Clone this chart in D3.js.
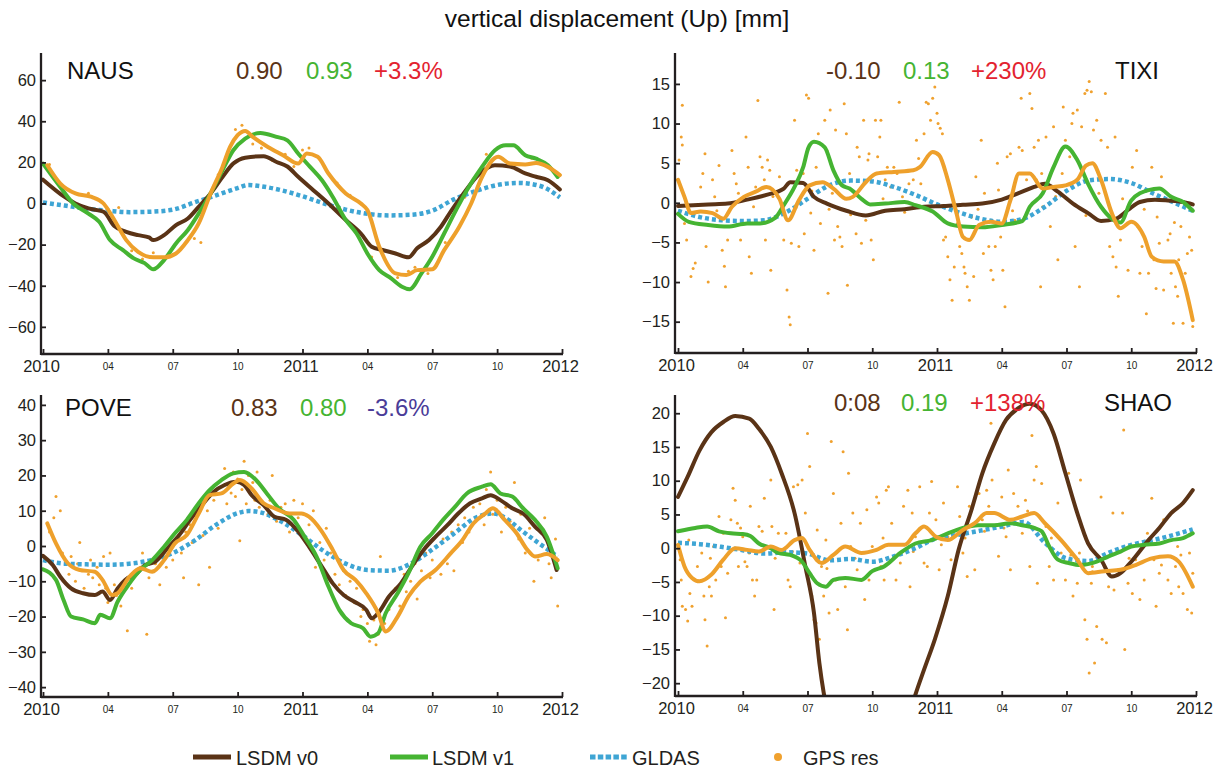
<!DOCTYPE html>
<meta charset="utf-8">
<head>
  <title>vertical displacement (Up)</title>
</head>
<style>
  body { margin: 0; background: #fff; font-family: "Liberation Sans", Arial, Helvetica, sans-serif; }
  .axis path, .axis line { stroke: #231f20; stroke-width: 1.8px; }
  .axis text { fill: #231f20; font-family: "Liberation Sans", Arial, sans-serif; }
  .line { fill: none; stroke-linejoin: round; stroke-linecap: round; }
  .line.v0 { stroke: #5a3316; stroke-width: 4px; }
  .line.v1 { stroke: #45b432; stroke-width: 4px; }
  .line.gps { stroke: #eea02b; stroke-width: 4px; }
  .line.gldas { stroke: #3ea5d4; stroke-width: 4.5px; stroke-dasharray: 4 3; stroke-linecap: butt; }
  .dot { fill: #f0a12e; }
</style>
<body>
<svg width="1225" height="771"></svg>
<script src="https://d3js.org/d3.v7.min.js"></script>
<script>
// months after 2010-01-01
var monthTicks = [0, 3, 6, 9, 12, 15, 18, 21, 24];
var tickLabels = ["2010", "04", "07", "10", "2011", "04", "07", "10", "2012"];

var stations = ["NAUS", "TIXI", "POVE", "SHAO"];
var corrV0 = ["0.90", "-0.10", "0.83", "0:08"];
var corrV1 = ["0.93", "0.13", "0.80", "0.19"];
var change = ["+3.3%", "+230%", "-3.6%", "+138%"];

// ---- NAUS
var nausV0 = [[0,11.6],[1,3.2],[1.5,0],[2.1,-2.4],[2.8,-4],[3.3,-11],[3.85,-13.8],[4.4,-15.4],[4.9,-16.5],[5.1,-17.8],[5.6,-15.4],[6.15,-10.5],[6.7,-7.3],[7.2,-1.6],[7.75,4.9],[8.3,12.9],[8.8,19.4],[9.35,22.3],[10.2,23],[10.8,20.2],[11.3,18],[11.8,13],[12.5,6.5],[13.2,0],[14,-8],[14.7,-14.6],[15.2,-21],[15.7,-22.6],[16.3,-24.3],[16.9,-26.2],[17.3,-21.8],[17.85,-17.8],[18.4,-11.3],[18.9,-3.2],[19.45,4.9],[20.2,14.6],[20.9,18.6],[21.6,18],[22.3,14.6],[22.8,13],[23.35,11.3],[23.9,6.8]];
var nausV1 = [[0,19.4],[0.8,8],[1.4,0],[2.1,-4.9],[2.6,-8.9],[3.1,-17.8],[3.7,-22.7],[4.2,-26.7],[4.7,-29],[5.1,-32],[5.6,-27.5],[6.15,-19.4],[6.7,-12.9],[7.2,-4.9],[7.75,4.9],[8.3,16.2],[8.8,25.9],[9.35,31.6],[10.05,34.3],[10.8,32.4],[11.3,30.7],[11.8,24.3],[12.35,17.8],[12.9,11.3],[13.4,3.2],[14,-8],[14.5,-14.6],[15,-24.3],[15.55,-32.4],[16.1,-36.4],[16.6,-40.5],[16.95,-41.7],[17.5,-34],[18,-25.9],[18.55,-14.6],[19.1,-3.2],[19.6,6.5],[20.3,17.8],[20.9,25.9],[21.4,28.3],[21.75,28.3],[22.3,23.5],[22.8,21.8],[23.35,18.6],[23.8,12.9]];
var nausGps = [[0.2,18.6],[0.8,9.7],[1.5,4.9],[2.25,3.2],[2.8,0],[3.3,-8],[3.85,-17.8],[4.4,-23.5],[5.1,-26.2],[5.6,-26.2],[6.15,-24.3],[6.7,-17.8],[7.2,-9.7],[7.75,4.9],[8.3,17.8],[8.65,27.5],[9,33.2],[9.35,35.3],[9.7,32.4],[10.4,27.5],[11.1,23.5],[11.8,19.4],[12.2,24.3],[12.7,22.7],[13.2,14.6],[14,4.9],[14.7,0],[15,-3.2],[15.55,-21],[16.3,-34],[16.8,-34.8],[17.3,-32.4],[18,-32],[18.55,-22.7],[19.25,-11.3],[19.8,0],[20.3,12.9],[21.05,22.7],[21.6,19.4],[22.3,19],[22.8,19.7],[23.35,17.8],[23.9,13.8]];
var nausGldas = [[0,0.5],[1,-1],[2,-2.5],[3,-3.5],[4,-4.2],[5,-4],[6,-3],[7,0.5],[8,4],[9,7.5],[9.5,9],[10,8.5],[11,6.5],[12,3.5],[13,0],[14,-3],[15,-5],[16,-5.8],[17,-5.5],[18,-3.5],[19,2],[20,6],[21,9],[22,10],[23,8.5],[23.9,3]];
var nausDots = [[0.3,19],[2.1,5],[3.5,-2],[4.1,-23],[4.6,-27],[5.1,-24],[6,-25],[7,-17],[7.3,-19],[8.1,14],[8.9,36],[9.2,38],[9.7,29],[10.1,27],[10.6,21],[11.2,24],[11.6,18],[12,26],[12.3,27],[13.6,10],[14.2,4],[15.2,-26],[16.4,-36],[16.9,-33],[17.2,-31],[17.8,-34],[18.6,-19],[19.5,3],[20.5,24],[21.5,20],[22.6,22],[23.9,14]];

// ---- TIXI
var tixiV0 = [[0,-0.4],[1.4,-0.2],[2.3,-0.1],[3.2,0.4],[4.1,1],[4.9,1.8],[5.2,2.6],[5.8,2.5],[6.3,0.75],[6.9,-0.1],[7.8,-1],[8.7,-1.6],[9.6,-1],[10.5,-0.8],[11.4,-0.5],[12.3,-0.4],[13.2,-0.25],[14.1,-0.1],[15,0.4],[15.95,1.4],[16.5,2],[17,2.4],[17.6,1.4],[18.3,-0.1],[19,-1.3],[19.6,-2.3],[20.3,-2],[20.85,-0.9],[21.4,0.1],[22.1,0.4],[22.7,0.3],[23.4,0.1],[23.85,-0.2]];
var tixiV1 = [[0,-1.4],[0.5,-2.4],[1.4,-2.8],[2.3,-3],[3.2,-2.6],[3.8,-2.6],[4.5,-1.9],[4.9,-0.3],[5.4,2],[5.8,4.5],[6.05,7],[6.3,7.7],[6.8,7],[7.2,4.1],[7.6,2.2],[7.95,1.8],[8.5,0.5],[8.9,-0.2],[9.6,-0.1],[10.5,0.1],[11,-0.3],[11.8,-1.1],[12.5,-2.6],[13.2,-3],[14.1,-3.1],[15,-2.8],[15.95,-2.3],[16.3,-0.5],[16.9,1.2],[17.4,4.5],[17.95,7.1],[18.5,5.4],[19,2.4],[19.6,-0.5],[20.1,-2],[20.5,-2.5],[21,0.3],[21.8,1.6],[22.3,1.8],[22.85,0.75],[23.4,0.1],[23.85,-1]];
var tixiGps = [[0,2.9],[0.3,0.75],[0.6,-1.3],[1.05,-1.1],[1.6,-1.3],[2.1,-2],[2.5,-0.5],[3.05,0.75],[3.6,1.4],[4.1,2],[4.7,0.5],[5.1,-2.2],[5.6,0.3],[6.1,2.2],[6.7,2.6],[7.2,1.8],[7.8,0.5],[8.1,0.75],[8.7,2.6],[9.2,3.7],[10,3.9],[10.9,4.1],[11.2,4.5],[11.8,6.4],[12.1,6],[12.5,2.9],[12.9,-1.3],[13.2,-4.3],[13.5,-4.7],[13.95,-2.8],[14.5,-2.4],[15,-2.6],[15.4,0.3],[15.8,3.7],[16.3,3.7],[16.9,1.8],[17.4,2],[17.95,2.2],[18.5,2.9],[18.9,4.7],[19.2,5],[19.6,2.9],[20.1,-1.3],[20.5,-3.2],[21,-2.4],[21.6,-4.3],[21.95,-6.8],[22.5,-7.4],[23,-7.4],[23.4,-9.7],[23.85,-14.8]];
var tixiGldas = [[0,-1],[1,-1.8],[2,-2.2],[3,-2.3],[4,-2.2],[5,-1.2],[6,0.5],[7,2.2],[8,2.8],[9,2.7],[10,2],[11,1],[12,-0.2],[13,-1.2],[14,-2],[15,-2.4],[16,-2],[17,-0.5],[18,1.5],[19,2.8],[20,3],[21,2.5],[22,1.2],[23,0],[23.85,-1]];
var tixiDots = [[0.2,12.3],[0.15,8.3],[0.2,7.3],[0.05,5.4],[0.3,-2.6],[0.4,-4.7],[0.6,-9.3],[0.7,-8.3],[0.8,-7.6],[1.05,2],[1.15,3.7],[1.25,6.2],[1.3,-5.5],[1.4,-10],[1.6,2.9],[1.7,0.75],[1.9,4.7],[2,-3],[2.05,-6],[2.15,-8],[2.2,-10.6],[2.3,-4.7],[2.5,6.6],[2.6,3.7],[2.7,2.4],[2.8,1.2],[2.9,-4.7],[3.15,8.3],[3.25,4.5],[3.3,-6.8],[3.4,-8.9],[3.6,2],[3.7,12.9],[3.8,5.8],[3.9,4.5],[4,2.9],[4.05,-4.7],[4.15,5.4],[4.25,4.1],[4.3,-8.5],[4.5,-1.8],[4.7,3.3],[4.9,-4.7],[5.05,-11],[5.15,-14.4],[5.2,-15.4],[5.25,-5.1],[5.3,-1.3],[5.4,10.4],[5.5,4.1],[5.6,-5.5],[5.8,3.7],[5.85,-3.9],[5.95,13.6],[6.05,13.2],[6.15,-1.3],[6.3,-6],[6.4,4.5],[6.5,8.7],[6.6,-2.6],[6.8,10.4],[6.9,6.6],[6.95,-11.4],[7.05,11.7],[7.15,1.2],[7.25,-4.7],[7.3,9.2],[7.4,-3],[7.5,-4.3],[7.6,-5.5],[7.7,12.5],[7.8,8.7],[7.85,-10.4],[7.95,3.7],[8.15,-1.3],[8.25,-3.9],[8.3,7],[8.4,5.8],[8.5,-5.1],[8.6,10.4],[8.7,-2.2],[8.8,5.4],[8.85,6.2],[8.95,-4.7],[9.05,-7.2],[9.15,10.4],[9.25,5.8],[9.35,8.3],[9.4,10.4],[9.6,2.9],[9.7,4.5],[9.85,2],[10,4.5],[10.15,3.7],[10.25,12.7],[10.4,0.75],[10.7,2.4],[10.9,2.9],[11.05,7.9],[11.15,5.6],[11.25,2.4],[11.4,8.7],[11.5,12.7],[11.6,12.5],[11.7,10.4],[11.8,13.2],[11.9,14.6],[12,11.3],[12.05,10],[12.15,9.4],[12.25,8.7],[12.3,-4.7],[12.4,-4.3],[12.5,-6.8],[12.6,-9.7],[12.7,-12.3],[12.8,-8.1],[12.95,-2.6],[13.05,-5.5],[13.15,-6.4],[13.25,-8.1],[13.3,-8.9],[13.4,-10.6],[13.5,-12.3],[13.6,-1.8],[13.7,-9.3],[13.8,3.3],[14.05,7.9],[14.15,-6.4],[14.35,-3],[14.4,-5.5],[14.5,-8.5],[14.6,-9.7],[14.7,-5.5],[14.8,5],[14.85,1.6],[14.95,-4.3],[15.05,-8.5],[15.15,-13.1],[15.25,5.8],[15.4,6.2],[15.6,-2.2],[15.8,7],[15.9,13.2],[15.95,6.6],[16.15,2.9],[16.3,13.8],[16.4,11.9],[16.5,7],[16.6,2.9],[16.7,7.9],[16.8,-10.6],[16.85,3.7],[17.05,8.3],[17.25,-3],[17.4,9.6],[17.6,-7.2],[17.8,3.7],[17.85,12.1],[17.95,7.9],[18.15,5.8],[18.25,10],[18.3,11.3],[18.4,-5.5],[18.5,11.7],[18.6,-10.6],[18.7,9.6],[18.85,13.8],[18.95,14.2],[19.05,15.3],[19.15,14],[19.25,9.2],[19.4,10.4],[19.6,7.9],[19.8,13.8],[19.9,7],[20,-5.5],[20.15,-6.8],[20.25,8.3],[20.3,-8.1],[20.4,-11.8],[20.5,-4.7],[20.7,-1.3],[20.85,-8.5],[21.05,4.5],[21.25,6.6],[21.3,-3],[21.4,-8.9],[21.5,-5.5],[21.7,-14],[21.8,-8.9],[21.95,4.5],[22.05,-7.2],[22.15,-10.8],[22.3,-5.1],[22.4,3.3],[22.5,-11],[22.7,-4.7],[22.8,-3.9],[22.85,-8.9],[22.95,-15.2],[23.05,-10.6],[23.15,-11.8],[23.2,-7.2],[23.3,-3],[23.4,-15.2],[23.5,-8.9],[23.6,-6.4],[23.7,-4.3],[23.8,-6],[23.85,-15.6],[1.8,-1],[3.5,-0.5],[4.4,0.8],[6.2,1.5],[7,-0.8],[8,-1.5],[9.5,0.5],[10.5,-1.2],[11.2,-0.4],[13.9,-0.8],[14.2,1.2],[15.5,-1],[16.9,-0.5],[17.5,0.8],[18.9,-1.6],[19.5,1.2],[20.6,0.5],[21.6,-0.8],[22.2,-1.8],[23,-2.5]];

// ---- POVE
var poveV0 = [[0,-2.8],[0.45,-5.4],[0.8,-8.7],[1.3,-12],[1.85,-13.4],[2.4,-13.9],[2.75,-12.9],[3.1,-15.3],[3.45,-12],[3.8,-9.6],[4.35,-7.7],[4.7,-5.5],[5.2,-4.4],[5.75,-0.7],[6.3,3.1],[6.8,7.4],[7.35,11.6],[7.9,15.4],[8.4,17.3],[8.95,18.2],[9.3,17.3],[9.65,14.4],[10.2,11.6],[10.7,8.3],[11.25,7.4],[11.8,4.1],[12.3,-0.2],[12.85,-5.4],[13.4,-10.6],[13.9,-13.9],[14.4,-15.8],[14.95,-18.1],[15.2,-20.5],[15.5,-19],[16,-14.3],[16.55,-10.6],[17.1,-5.4],[17.6,-1.1],[18.15,2.6],[18.7,5.9],[19.2,9.2],[19.75,12.1],[20.3,13.5],[20.7,14.4],[21.15,13],[21.7,10.7],[22.2,9.2],[22.75,5.5],[23.3,1.7],[23.75,-6.8]];
var poveV1 = [[0,-6.6],[0.6,-9.6],[0.95,-15.3],[1.3,-20],[1.85,-20.8],[2.4,-21.9],[2.65,-19.5],[3.1,-20.5],[3.45,-15.8],[4,-10.6],[4.5,-6.8],[5.05,-4],[5.6,-0.2],[6.1,3.6],[6.65,7.4],[7.2,12.1],[7.7,15.8],[8.25,18.7],[8.8,20.6],[9.3,21],[9.85,18.7],[10.35,14.9],[10.9,10.7],[11.6,7.4],[12.1,2.6],[12.65,-3],[13.2,-11.5],[13.7,-18.1],[14.25,-21.9],[14.8,-23.3],[15.15,-25.7],[15.5,-24.7],[15.85,-19],[16.4,-13.4],[16.9,-7.7],[17.45,-0.2],[18,3.6],[18.5,7.4],[19.05,11.1],[19.6,14.9],[20.3,16.8],[20.7,17.5],[21.15,14.9],[21.7,14],[22.2,10.7],[22.75,7.4],[23.3,2.6],[23.8,-6.3]];
var poveGps = [[0.2,6.4],[0.6,0.75],[1.15,-4.9],[1.7,-6.8],[2.4,-7.3],[2.75,-9.6],[3.2,-13.9],[3.45,-13.4],[4,-8.7],[4.5,-6.3],[5.05,-7.3],[5.6,-4],[6.1,0.75],[6.65,3.1],[7.2,9.2],[7.7,14.4],[8.25,14.9],[8.8,17.7],[9.1,18.7],[9.65,16.3],[10.2,12.1],[10.7,10.7],[11.4,9.2],[11.95,9.2],[12.3,8.3],[12.85,4.5],[13.4,-1.1],[13.9,-6.8],[14.45,-9.6],[14.95,-13.4],[15.5,-19],[15.85,-24.2],[16.4,-20],[16.9,-14.3],[17.45,-10.1],[18.15,-6.8],[18.85,-2.1],[19.4,1.7],[19.9,6.4],[20.45,9.2],[20.8,10.7],[21.35,7.4],[21.9,3.6],[22.4,-1.1],[22.75,-3],[23.3,-2.3],[23.8,-4]];
var poveGldas = [[0,-4],[1,-5],[2,-5.2],[3,-5.3],[4,-5],[5,-4],[6,-2],[7,1.5],[8,6],[9,9.3],[9.5,9.9],[10,9.6],[11,7],[12,3],[13,-1.5],[14,-5],[15,-6.8],[16,-7],[17,-5],[18,-1],[19,3.5],[20,8],[20.8,9.2],[21.5,7.5],[22,5],[23,0.5],[23.8,-3]];
var poveDots = [[0.3,4],[0.5,8],[0.6,14],[0.8,10],[0.9,-2],[1.1,-5],[1.2,-8],[1.3,-3],[1.5,-10],[1.6,-5],[1.7,1],[1.8,-7],[1.9,-12],[2.1,-8],[2.2,-4],[2.3,-9],[2.5,-6],[2.6,-11],[2.8,-3],[2.9,-12],[3,-16],[3.1,-2],[3.3,-11],[3.4,-14],[3.6,-17],[3.8,-10],[3.9,-24],[4.1,-12],[4.3,-8],[4.5,-6],[4.6,-2],[4.8,-25],[4.9,-9],[5.1,-7],[5.2,-5],[5.4,-11],[5.5,-3],[5.7,-6],[5.9,-1],[6,-4],[6.2,2],[6.4,-2],[6.5,-9],[6.6,4],[6.8,6],[6.9,1],[7.1,8],[7.2,-11],[7.3,12],[7.4,3],[7.6,10],[7.7,-6],[7.9,13],[8,16],[8.1,5],[8.3,19],[8.4,22],[8.5,12],[8.6,17],[8.7,15],[8.8,21],[8.9,14],[9,19],[9.1,1.5],[9.2,16],[9.3,24],[9.4,12],[9.5,20],[9.6,15],[9.7,18],[9.8,13],[9.9,21],[10,11],[10.2,16],[10.4,9],[10.5,13],[10.6,20],[10.8,7],[11,11],[11.2,12],[11.4,4],[11.6,13],[11.8,8],[12,12],[12.2,2],[12.3,6],[12.5,10],[12.6,-6],[12.8,1],[13,-4],[13.1,5],[13.3,-2],[13.5,-8],[13.7,-11],[13.9,-7],[14,-14],[14.2,-10],[14.4,-16],[14.5,-12],[14.7,-20],[14.8,-18],[14.9,-24],[15,-22],[15.1,-27],[15.3,-21],[15.4,-28],[15.5,-25],[15.6,-3],[15.8,-22],[16,-18],[16.2,-15],[16.3,-12],[16.5,-17],[16.7,-8],[16.8,-13],[17,-10],[17.2,-5],[17.3,-15],[17.5,-7],[17.7,-2],[17.9,-9],[18,-4],[18.2,0],[18.4,-8],[18.5,2],[18.7,-5],[18.9,4],[19,-7],[19.2,6],[19.4,1],[19.5,8],[19.7,4],[19.9,11],[20,7],[20.2,12],[20.4,6],[20.5,16],[20.7,21],[20.8,9],[21,13],[21.2,4],[21.4,11],[21.6,7],[21.8,18],[22,2],[22.1,9],[22.3,-2],[22.5,5],[22.7,-10],[22.9,-4],[23.1,0],[23.2,8],[23.4,-5],[23.5,-9],[23.7,2],[23.8,-17]];

// ---- SHAO (LSDM v0 runs below the plotted range in autumn 2010)
var shaoV0 = [[0,7.6],[0.45,10.6],[1,14.5],[1.55,17.2],[2.1,18.7],[2.65,19.6],[3.3,19.2],[3.75,17.7],[4.3,15],[4.8,11.1],[5.4,5.2],[5.9,-2.7],[6.3,-9.6],[6.55,-17],[6.75,-21.4],[7.3,-27],[8,-31],[9,-34],[10,-31],[10.6,-26],[11,-21.7],[11.4,-18],[11.9,-13.5],[12.5,-7.1],[13,-0.25],[13.6,5.7],[14.1,11.1],[14.65,15.5],[15.2,19],[15.75,20.7],[16.3,21.4],[16.85,20.4],[17.4,17],[17.95,11.1],[18.5,5.2],[19,0.7],[19.6,-1.7],[20.1,-4.2],[20.5,-3.7],[21,-2],[21.8,1.2],[22.3,3],[22.85,5.2],[23.4,6.7],[23.85,8.6]];
var shaoV1 = [[0,2.5],[0.8,3],[1.35,3.2],[1.9,2.5],[2.45,2.2],[3,2.1],[3.35,1.8],[3.75,0.7],[4.3,0],[4.65,-0.7],[5.2,-1],[5.75,-2],[6.1,-3.7],[6.45,-5.2],[6.85,-5.7],[7.2,-4.7],[7.75,-4.4],[8.5,-4.7],[9,-3.4],[9.55,-2.7],[10.3,-0.7],[11,0.7],[11.75,1.2],[12.5,2.2],[13.2,3],[13.9,3.4],[14.65,3.4],[15.4,3.7],[15.95,3.4],[16.5,3],[16.85,2.5],[17.2,0.25],[17.6,-1.7],[18.1,-2.2],[18.65,-2.5],[19.4,-2],[19.95,-1.2],[20.5,-0.5],[21,0.25],[21.6,0.5],[22.3,0.7],[22.85,1.2],[23.4,1.5],[23.85,2.2]];
var shaoGps = [[0,0.5],[0.3,-2.7],[0.65,-4.4],[1,-4.9],[1.55,-3.9],[2.1,-1.7],[2.65,0],[3.2,-0.25],[3.75,-0.5],[4.3,0.25],[4.8,-0.25],[5.4,1.2],[5.75,1.5],[6.1,-0.25],[6.65,-2.2],[7.2,-1],[7.75,0.25],[8.5,-0.7],[9.2,-0.25],[9.75,0.5],[10.5,0.5],[11,2.2],[11.4,3.2],[11.95,1.7],[12.5,1.2],[13.2,2.7],[13.75,3.7],[14.3,5.2],[14.65,5.2],[15.4,4.2],[15.95,4.7],[16.5,5.2],[17,3.7],[17.75,1.2],[18.5,-1.7],[19,-3.7],[19.75,-3.4],[20.5,-3.2],[21.2,-2.5],[21.95,-1.5],[22.7,-1.2],[23.2,-2],[23.85,-5.7]];
var shaoGldas = [[0,0.8],[1,0.6],[2,0.2],[3,-0.3],[4,-0.8],[5,-0.6],[6,-0.8],[7,-1.8],[8,-1.6],[9,-2],[10,-1.2],[11,0],[12,1.5],[13,2],[14,2.6],[15,3.2],[16,3.9],[17,0.8],[18,-1.5],[19,-1.9],[20,-0.6],[21,0.5],[22,1.2],[23,2],[23.85,2.8]];
var shaoDots = [[0.1,-1.7],[0.15,-4.7],[0.2,-8.6],[0.35,-9.1],[0.45,-10.8],[0.55,-6.7],[0.65,-8.6],[0.8,-4.7],[0.9,-2.7],[1.1,-0.7],[1.2,-7.1],[1.25,-10.6],[1.35,-14.5],[1.45,-5.7],[1.55,-7.1],[1.65,0.25],[1.75,-4.7],[1.9,4.7],[2,-2.7],[2.1,2.2],[2.2,-10.3],[2.3,-3.7],[2.45,4.2],[2.55,8.9],[2.65,7.1],[2.75,3.7],[2.8,-2.7],[2.9,3],[3,1.7],[3.2,-2.7],[3.3,-0.7],[3.35,6.2],[3.45,-4.7],[3.55,-7.1],[3.65,-4.7],[3.75,3.2],[3.9,2.5],[4,7.4],[4.1,0.25],[4.3,10.1],[4.35,3.2],[4.45,-9.1],[4.65,2.2],[4.8,-0.7],[5,2.2],[5.1,-4.7],[5.2,-5.7],[5.35,9.1],[5.45,4.7],[5.55,9.4],[5.65,-2.2],[5.75,10.1],[5.9,5.2],[6,17],[6.1,12.1],[6.2,-7.1],[6.3,-10.6],[6.4,-11.1],[6.45,2.7],[6.55,-13.5],[6.65,-2.7],[6.75,-7.1],[6.85,1.2],[7,-9.6],[7.1,15.8],[7.2,8.1],[7.3,-4.7],[7.4,-9.1],[7.55,3.7],[7.65,14.3],[7.75,-5.7],[7.85,-12.1],[7.9,11.1],[8,0.25],[8.1,5.2],[8.3,-3.2],[8.45,3.7],[8.65,-7.6],[8.75,5.7],[8.85,-4.7],[9,0.25],[9.2,7.6],[9.3,6.7],[9.4,-2.7],[9.55,-4.7],[9.65,8.6],[9.75,9.1],[9.9,3.7],[10.1,-4.7],[10.3,-2.2],[10.45,6.2],[10.65,8.6],[10.75,-5.7],[10.85,5.2],[11,1.7],[11.2,9.1],[11.4,-2.2],[11.55,-2.7],[11.65,5.2],[11.75,9.9],[11.95,4.2],[12.1,-3.2],[12.3,6.7],[12.5,1.7],[12.65,-1.7],[12.95,9.1],[13.05,4.7],[13.2,-0.7],[13.4,-4.2],[13.5,6.2],[13.55,3.2],[13.75,-3.2],[13.95,8.1],[14.1,4.2],[14.3,8.6],[14.4,6.2],[14.5,18.5],[14.55,10.1],[14.65,3.2],[14.85,-1.2],[15,7.6],[15.2,1.7],[15.3,11.6],[15.4,-3.2],[15.55,8.1],[15.75,6.2],[15.95,2.2],[16.1,7.1],[16.3,-2.7],[16.4,16.7],[16.5,10.1],[16.6,12.1],[16.65,-5.2],[16.85,9.6],[17.05,3.2],[17.2,-2.7],[17.4,-4.7],[17.6,6.7],[17.75,-0.7],[17.95,-4.7],[18.1,11.1],[18.3,-7.1],[18.5,-5.2],[18.6,-0.7],[18.65,10.1],[18.85,-10.6],[18.95,-13.5],[19.05,-18.5],[19.15,-5.2],[19.2,-2.7],[19.3,-17],[19.4,-11.6],[19.6,7.6],[19.65,-13.5],[19.85,-14],[19.95,-5.7],[20.15,5.2],[20.2,-6.2],[20.4,-3.2],[20.6,5.2],[20.65,17.5],[20.7,-15],[20.85,-5.2],[21.05,-6.7],[21.2,-1.7],[21.4,-7.6],[21.6,-4.7],[21.75,2.2],[21.95,7.4],[22.05,-1.7],[22.15,-8.6],[22.3,-3.7],[22.5,4.2],[22.7,-4.7],[22.85,-6.7],[23.05,-2.7],[23.15,0.25],[23.2,-5.7],[23.4,-6.7],[23.6,-9.1],[23.7,-0.7],[23.8,-9.6],[23.85,-3.7],[0.5,1.2],[1.5,-1.5],[3.1,-2],[4.5,-1.5],[5.3,-0.5],[6.9,-3],[8.2,-1.5],[9.5,1.5],[10.9,-0.5],[12.2,0.5],[13.3,1.5],[14.2,2.5],[15.1,3],[16.2,5.5],[17.3,1.5],[18.2,-1],[19.2,-3.5],[20.9,-1.5],[22.4,-2.5],[23.3,-1]];

var lineSets = [
  { v0: nausV0, v1: nausV1, gps: nausGps, gldas: nausGldas, dots: nausDots },
  { v0: tixiV0, v1: tixiV1, gps: tixiGps, gldas: tixiGldas, dots: tixiDots },
  { v0: poveV0, v1: poveV1, gps: poveGps, gldas: poveGldas, dots: poveDots },
  { v0: shaoV0, v1: shaoV1, gps: shaoGps, gldas: shaoGldas, dots: shaoDots }
];

// panel layout (pixels)
var layout = [
  { ax: 41, x0: 43, x1: 562, top: 53, bot: 354, dom: [-73.2, 73.2], step: 20,
    nameX: 67, numX: [236, 306, 374], textY: 79 },
  { ax: 675, x0: 678, x1: 1196, top: 53, bot: 353, dom: [-18.95, 18.9], step: 5,
    nameX: 1115, numX: [826, 903, 971], textY: 79 },
  { ax: 41, x0: 43, x1: 562, top: 395, bot: 697, dom: [-42.8, 42.8], step: 10,
    nameX: 65, numX: [231, 300, 367], textY: 416 },
  { ax: 675, x0: 678, x1: 1196, top: 395, bot: 696, dom: [-21.9, 22.7], step: 5,
    nameX: 1104, numX: [834, 901, 970], textY: 411 }
];

var svg = d3.select("svg");

svg.append("text")
    .attr("x", 617).attr("y", 27)
    .attr("text-anchor", "middle")
    .style("font-size", "24.5px")
    .attr("fill", "#111")
    .text("vertical displacement (Up) [mm]");

layout.forEach(function(p, i) {
  var x = d3.scaleLinear().domain([0, 24]).range([p.x0, p.x1]);
  var y = d3.scaleLinear().domain(p.dom).range([p.bot, p.top]);
  var set = lineSets[i];
  var g = svg.append("g");

  g.append("clipPath").attr("id", "clip" + i)
    .append("rect")
      .attr("x", p.ax).attr("y", p.top)
      .attr("width", p.x1 - p.ax + 3).attr("height", p.bot - p.top);

  var plot = g.append("g").attr("clip-path", "url(#clip" + i + ")");

  var line = d3.line()
      .curve(d3.curveMonotoneX)
      .x(function(d) { return x(d[0]); })
      .y(function(d) { return y(d[1]); });

  plot.selectAll(".dot").data(set.dots).enter().append("circle")
      .attr("class", "dot")
      .attr("cx", function(d) { return x(d[0]); })
      .attr("cy", function(d) { return y(d[1]); })
      .attr("r", 1.5);

  plot.append("path").datum(set.gldas).attr("class", "line gldas").attr("d", line);
  plot.append("path").datum(set.v0).attr("class", "line v0").attr("d", line);
  plot.append("path").datum(set.v1).attr("class", "line v1").attr("d", line);
  plot.append("path").datum(set.gps).attr("class", "line gps").attr("d", line);

  // y axis, ticks pointing inward
  var yTicks = d3.range(Math.ceil(p.dom[0] / p.step) * p.step, p.dom[1], p.step);
  var yAxis = g.append("g")
      .attr("class", "axis")
      .attr("transform", "translate(" + p.ax + ",0)")
      .call(d3.axisLeft(y).tickValues(yTicks).tickSizeInner(-5).tickSizeOuter(0).tickPadding(5));
  yAxis.select(".domain").remove();
  yAxis.selectAll("text").style("font-size", "16.5px");
  g.append("line")
      .attr("x1", p.ax).attr("x2", p.ax).attr("y1", p.top).attr("y2", p.bot + 1)
      .style("stroke", "#231f20").style("stroke-width", "2.3px");

  // x axis
  var xAxis = g.append("g")
      .attr("class", "axis")
      .attr("transform", "translate(0," + p.bot + ")")
      .call(d3.axisBottom(x).tickValues(monthTicks)
        .tickFormat(function(d, k) { return tickLabels[k]; })
        .tickSizeInner(-5).tickSizeOuter(0));
  xAxis.select(".domain").remove();
  xAxis.selectAll("text")
      .attr("dy", null)
      .attr("x", function(d, k) { return k % 4 === 0 ? -2 : 0; })
      .attr("y", function(d, k) { return k % 4 === 0 ? 18 : 16; })
      .style("font-size", function(d, k) { return k % 4 === 0 ? "16.5px" : "10px"; });
  g.append("line")
      .attr("x1", p.ax).attr("x2", p.x1 + 1).attr("y1", p.bot).attr("y2", p.bot)
      .style("stroke", "#231f20").style("stroke-width", "2.3px");

  // station name and correlations
  g.append("text").attr("x", p.nameX).attr("y", p.textY)
      .style("font-size", "24px").attr("fill", "#111").text(stations[i]);
  var cols = ["#5a3316", "#45b432", change[i].charAt(0) === "-" ? "#4a3c98" : "#e3232f"];
  [corrV0[i], corrV1[i], change[i]].forEach(function(t, k) {
    g.append("text").attr("x", p.numX[k]).attr("y", p.textY)
        .style("font-size", "24px").attr("fill", cols[k]).text(t);
  });
});

// legend
var legend = svg.append("g").attr("transform", "translate(0,757)");
legend.append("line").attr("x1", 193).attr("x2", 231)
    .style("stroke", "#5a3316").style("stroke-width", "5px");
legend.append("line").attr("x1", 390).attr("x2", 428)
    .style("stroke", "#45b432").style("stroke-width", "5px");
legend.append("line").attr("x1", 590).attr("x2", 628)
    .style("stroke", "#3ea5d4").style("stroke-width", "5px").style("stroke-dasharray", "5.5 2.3");
legend.append("circle").attr("cx", 778).attr("cy", 0).attr("r", 4).style("fill", "#f0a12e");
[["LSDM v0", 236], ["LSDM v1", 432], ["GLDAS", 632], ["GPS res", 803]].forEach(function(d) {
  legend.append("text").attr("x", d[1]).attr("y", 8)
      .style("font-size", "20px").attr("fill", "#231f20").text(d[0]);
});
</script>
</body>
</html>
